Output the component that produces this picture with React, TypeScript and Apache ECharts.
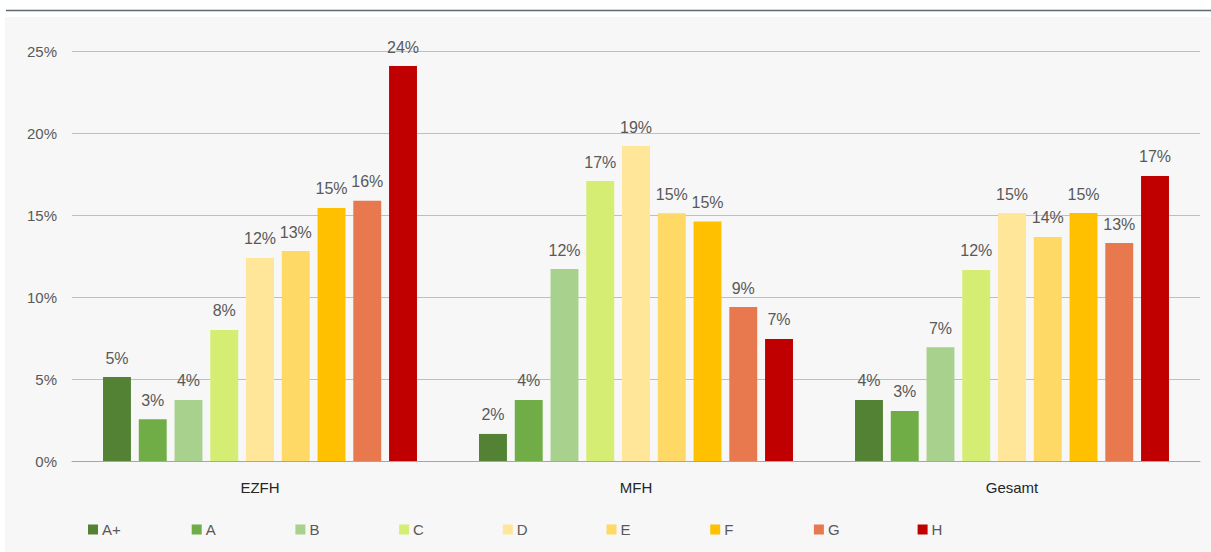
import React, { useEffect, useRef } from "react";
import * as echarts from "echarts";

const categories = ["EZFH", "MFH", "Gesamt"];
const seriesNames = ["A+", "A", "B", "C", "D", "E", "F", "G", "H"];
const valuesAplus = [5.12, 1.65, 3.72];
const valuesA = [2.54, 3.72, 3.05];
const valuesB = [3.72, 11.7, 6.93];
const valuesC = [7.99, 17.07, 11.65];
const valuesD = [12.38, 19.2, 15.12];
const valuesE = [12.8, 15.1, 13.66];
const valuesF = [15.43, 14.6, 15.12];
const valuesG = [15.87, 9.39, 13.29];
const valuesH = [24.08, 7.44, 17.38];
const seriesValues = [valuesAplus, valuesA, valuesB, valuesC, valuesD, valuesE, valuesF, valuesG, valuesH];
const colors = ["#548235", "#70ad47", "#a9d18e", "#d6ed73", "#ffe699", "#ffd966", "#ffc000", "#e8794f", "#c00000"];

const FONT = "'Liberation Sans', 'DejaVu Sans', sans-serif";

export default function App() {
  const ref = useRef<HTMLDivElement>(null);
  useEffect(() => {
    if (!ref.current) return;
    const chart = echarts.init(ref.current, undefined, { renderer: "svg" });
    chart.setOption({
      animation: false,
      backgroundColor: "#ffffff",
      graphic: [
        { type: "rect", left: 5, top: 17, shape: { width: 1206, height: 535 }, style: { fill: "#f7f7f7" }, z: -10, silent: true },
        { type: "line", shape: { x1: 6, y1: 10.5, x2: 1211, y2: 10.5 }, style: { stroke: "#5d6870", lineWidth: 1.5 }, z: -5, silent: true },
      ],
      grid: { left: 72, right: 11, top: 51, bottom: 91, containLabel: false },
      xAxis: {
        type: "category",
        data: categories,
        axisTick: { show: false },
        axisLine: { lineStyle: { color: "#a6a6a6", width: 1 } },
        axisLabel: { color: "#262626", fontSize: 15, fontFamily: FONT, margin: 19 },
      },
      yAxis: {
        type: "value",
        min: 0,
        max: 25,
        interval: 5,
        axisLabel: { formatter: "{value}%", color: "#595959", fontSize: 15, fontFamily: FONT, margin: 15 },
        splitLine: { lineStyle: { color: "#bfbfbf", width: 1 } },
        axisLine: { show: false },
        axisTick: { show: false },
      },
      legend: seriesNames.map((name, i) => ({
        left: 88 + i * 103.7,
        top: 522,
        itemWidth: 10,
        itemHeight: 10,
        itemGap: 0,
        padding: 0,
        icon: "rect",
        data: [name],
        textStyle: { color: "#595959", fontSize: 15, fontFamily: FONT, padding: [0, 0, 0, -1] },
      })),
      series: seriesNames.map((name, i) => ({
        name,
        type: "bar",
        data: seriesValues[i],
        barGap: "28%",
        barCategoryGap: "16.5%",
        itemStyle: { color: colors[i] },
        label: {
          show: true,
          position: "top",
          distance: 11,
          formatter: (p: any) => Math.round(p.value) + "%",
          color: "#595959",
          fontSize: 16,
          fontFamily: FONT,
        },
      })),
    });
    return () => chart.dispose();
  }, []);
  return <div ref={ref} style={{ position: "fixed", left: 0, top: 0, width: 1211, height: 552 }} />;
}
